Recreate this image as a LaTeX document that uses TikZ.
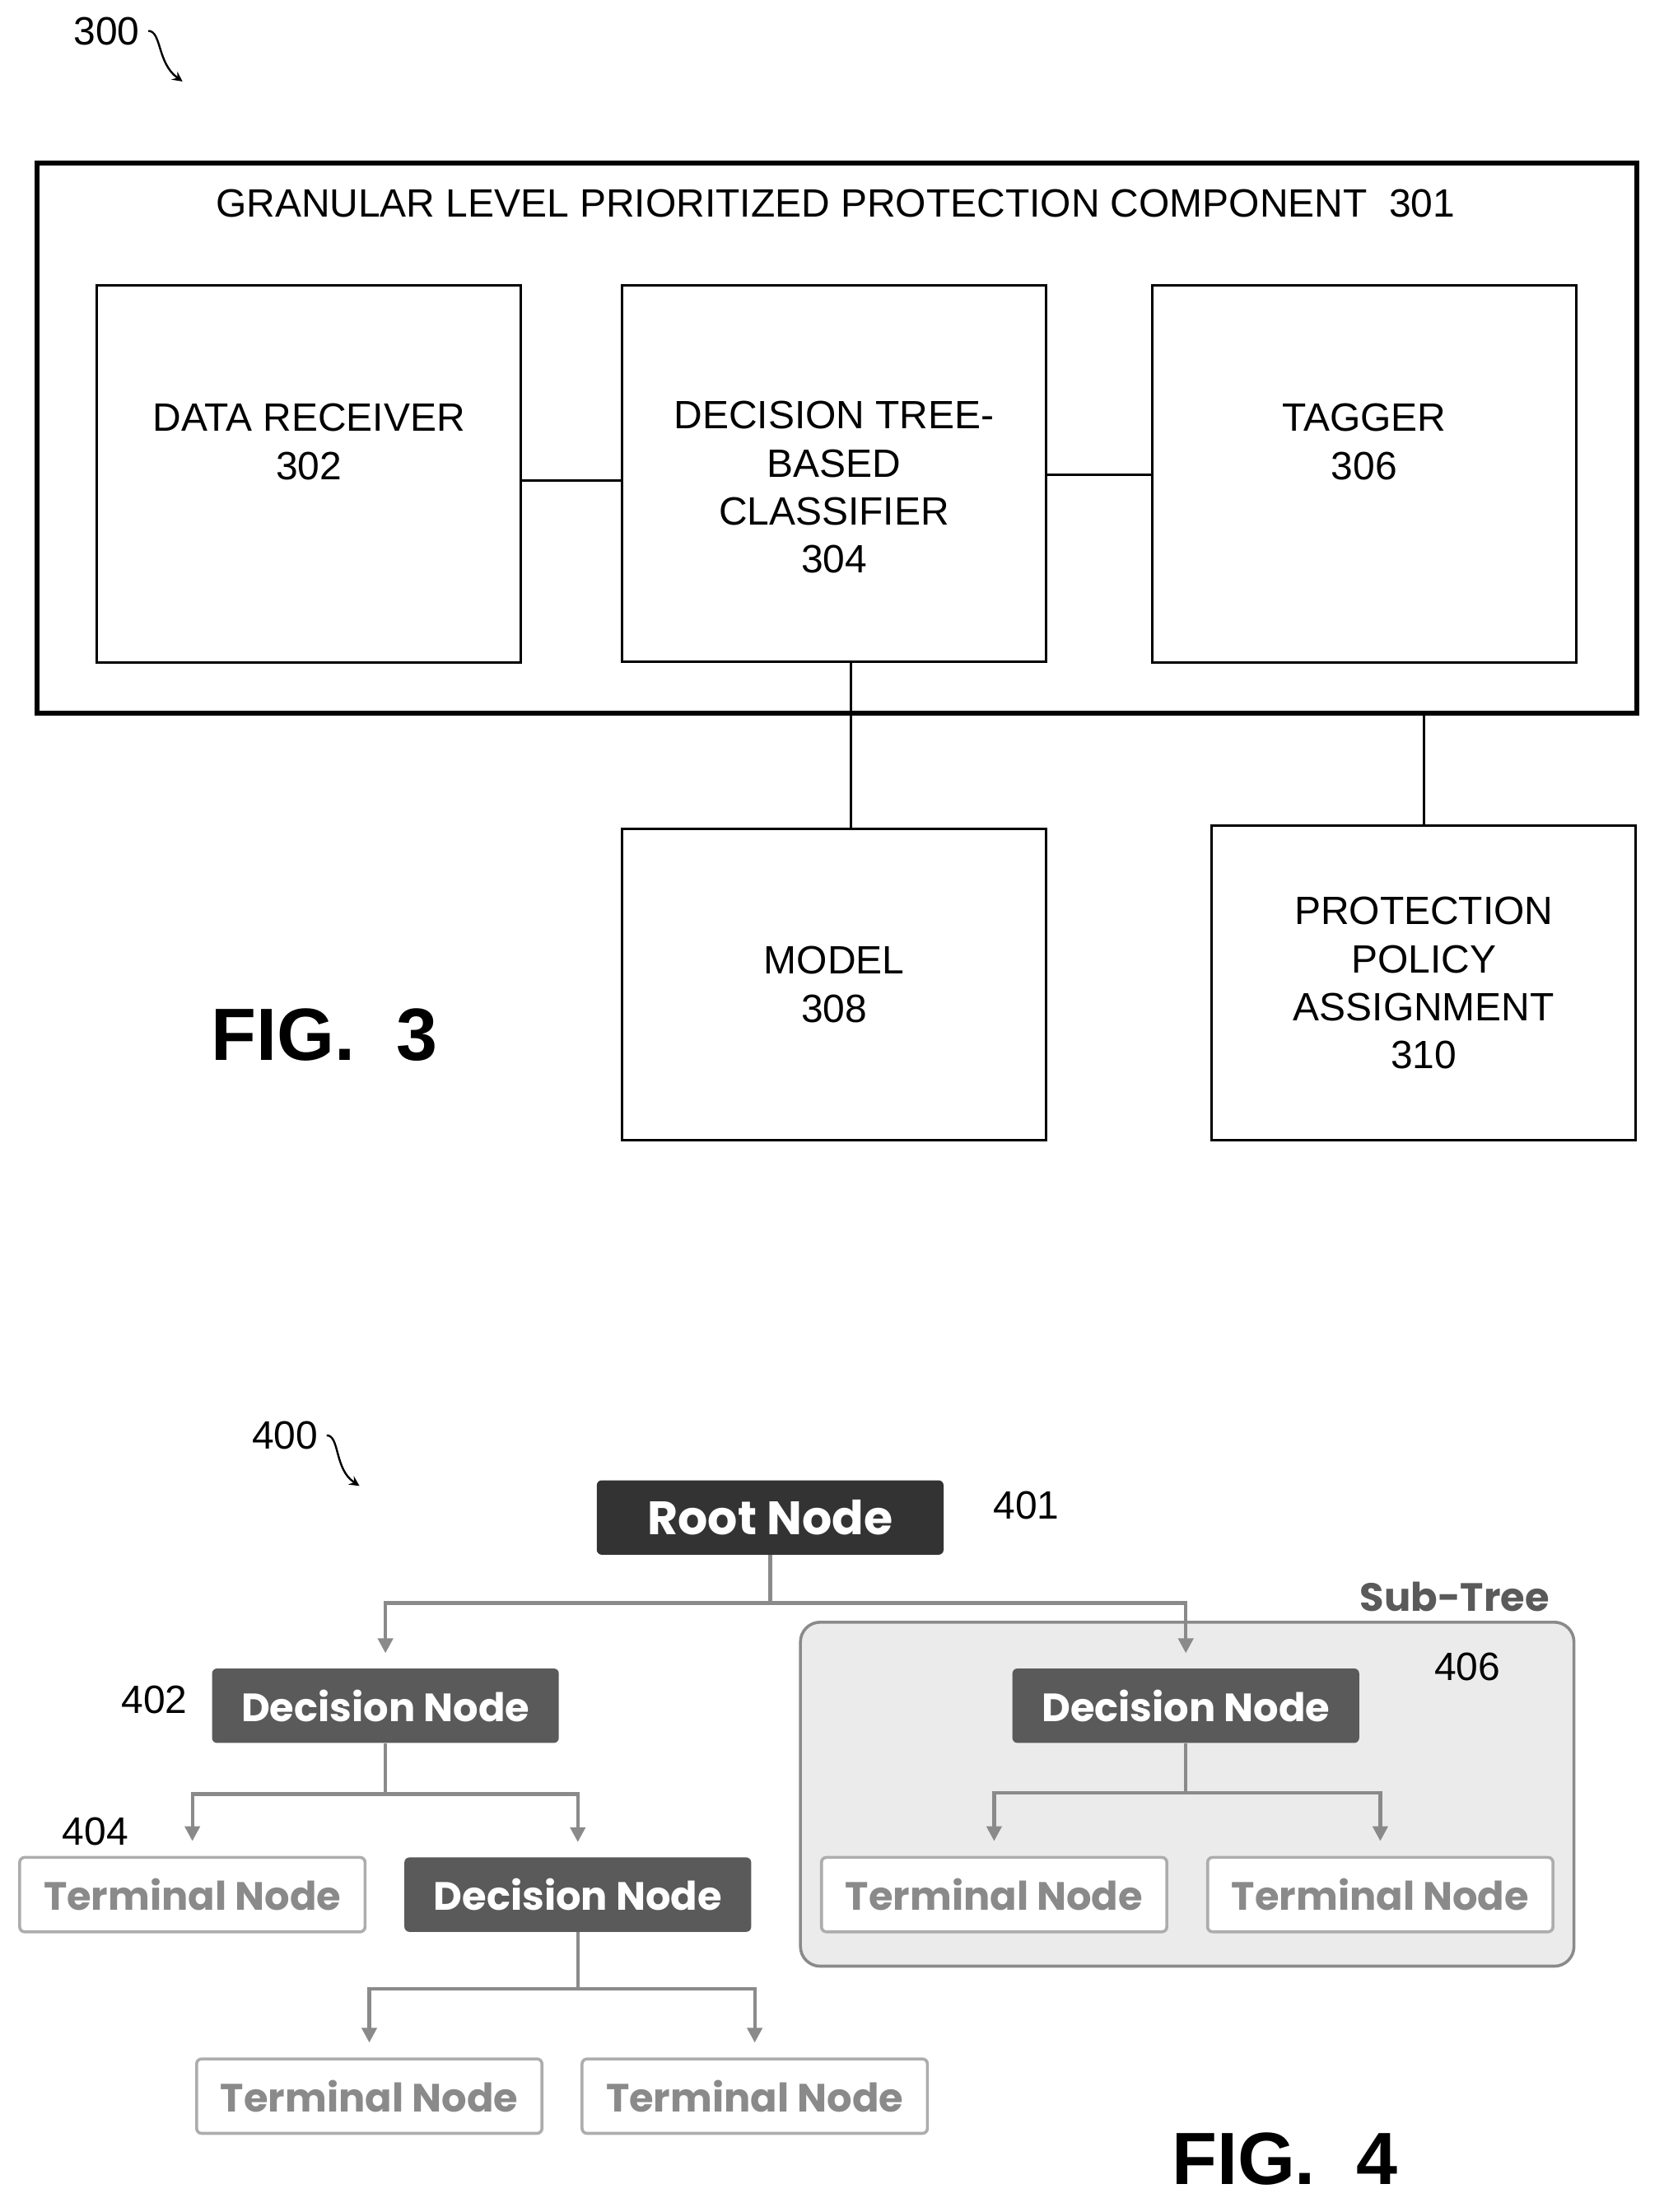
\documentclass[tikz,border=0pt]{standalone}
\usepackage{fontspec}
\setmainfont{Liberation Sans}
\newfontfamily\treefont{Poppins}
\usetikzlibrary{positioning,arrows.meta,calc}
\tikzset{>=stealth}
\definecolor{rootgray}{HTML}{333333}
\definecolor{decgray}{HTML}{5A5A5A}
\definecolor{termgray}{HTML}{8A8A8A}
\definecolor{subgray}{HTML}{EBEBEB}
\tikzset{
  box/.style={draw,line width=1pt,minimum width=6.04cm},
  lbl/.style={align=center,font=\fontsize{16}{19.5}\selectfont},
  fig/.style={font=\bfseries\fontsize{30}{34}\selectfont},
  root/.style={fill=rootgray,text=white,rounded corners=2pt,minimum width=4.94cm,minimum height=1.06cm,font=\treefont\bfseries\fontsize{19}{22}\selectfont},
  dec/.style={fill=decgray,text=white,rounded corners=2pt,minimum width=4.94cm,minimum height=1.06cm,font=\treefont\bfseries\fontsize{16}{19}\selectfont},
  term/.style={draw=termgray!70,fill=white,text=termgray,line width=1.2pt,rounded corners=2pt,minimum width=4.92cm,minimum height=1.06cm,font=\treefont\bfseries\fontsize{16}{19}\selectfont},
  conn/.style={draw=termgray,line width=1.4pt,-{Triangle[length=6pt,width=6pt]},shorten >=6pt},
}
\begin{document}
\begin{tikzpicture}[x=0.02cm,y=-0.02cm]
\useasboundingbox (0,0) rectangle (1185,1575);
% figure 3
\node[lbl] (n300) at (76,22) {300};
\draw[->,line width=.8pt] (n300.east) .. controls (115,22) and (112,45) .. (130,58);
\node[draw,line width=2pt,minimum width=22.8cm,minimum height=7.84cm] (comp) at (596,312) {};
\node[lbl] (title) at (595,145) {GRANULAR LEVEL PRIORITIZED PROTECTION COMPONENT\ \ 301};
\node[box,minimum height=5.38cm] (rcv) at (220,337.5) {};
\node[lbl] at ([yshift=.46cm]rcv.center) {DATA RECEIVER\\302};
\node[box,minimum height=5.36cm] (cls) at (594,337) {};
\node[lbl] at ([yshift=-.2cm]cls.center) {DECISION TREE-\\BASED\\CLASSIFIER\\304};
\node[box,minimum height=5.38cm] (tag) at (971.5,337.5) {};
\node[lbl] at ([yshift=.46cm]tag.center) {TAGGER\\306};
\node[box,minimum height=4.44cm,lbl] (model) at (594,701) {MODEL\\308};
\node[box,minimum height=4.48cm,lbl] (ppa) at (1014,700) {PROTECTION\\POLICY\\ASSIGNMENT\\310};
\draw[line width=1pt] (rcv.east |- 0,342) -- (cls.west |- 0,342);
\draw[line width=1pt] (cls.east |- 0,338) -- (tag.west |- 0,338);
\draw[line width=1pt] (cls.south -| 606,0) -- (model.north -| 606,0);
\draw[line width=1pt] (comp.south -| ppa.north) -- (ppa.north);
\node[fig] at (231,737) {FIG.\ \ 3};
% figure 4
\node[lbl] (n400) at (203,1022) {400};
\draw[->,line width=.8pt] (n400.east) .. controls (242,1022) and (238,1046) .. (256,1058);
\node[draw=termgray,fill=subgray,line width=1.2pt,rounded corners=8pt,minimum width=11.02cm,minimum height=4.9cm] (sub) at (845.5,1277.5) {};
\node[text=decgray,font=\treefont\bfseries\fontsize{16}{19}\selectfont] at (1036,1137) {Sub-Tree};
\node[root] (root) at (548.5,1080.5) {Root Node};
\node[lbl] at (731,1072) {401};
\node[dec] (dec1) at (274.5,1214.5) {Decision Node};
\node[dec] (dec3) at (844.5,1214.5) {Decision Node};
\node[lbl] at (110,1210) {402};
\node[lbl] at (1045,1187) {406};
\node[term] (term1) at (137,1349) {Terminal Node};
\node[dec] (dec2) at (411.5,1349) {Decision Node};
\node[lbl] at (68,1304) {404};
\node[term] (term2) at (263,1492.5) {Terminal Node};
\node[term] (term3) at (537.5,1492.5) {Terminal Node};
\node[term] (term4) at (708,1349) {Terminal Node};
\node[term] (term5) at (983,1349) {Terminal Node};
\draw[conn] (root.south) -- ++(0,34) -| (dec1.north);
\draw[conn] (root.south) -- ++(0,34) -| (dec3.north);
\draw[conn] (dec1.south) -- ++(0,36) -| (term1.north);
\draw[conn] (dec1.south) -- ++(0,36) -| (dec2.north);
\draw[conn] (dec2.south) -- ++(0,40) -| (term2.north);
\draw[conn] (dec2.south) -- ++(0,40) -| (term3.north);
\draw[conn] (dec3.south) -- ++(0,35) -| (term4.north);
\draw[conn] (dec3.south) -- ++(0,35) -| (term5.north);
\node[fig] at (915,1537) {FIG.\ \ 4};
\end{tikzpicture}
\end{document}
